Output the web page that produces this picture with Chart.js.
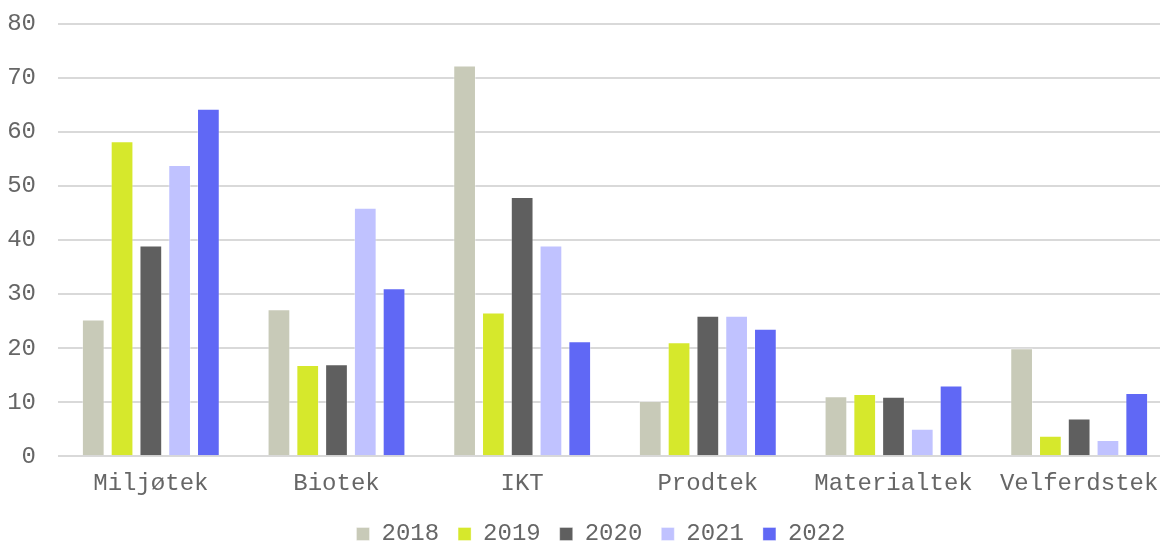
<!DOCTYPE html>
<html>
<head>
<meta charset="utf-8">
<script src="https://cdn.jsdelivr.net/npm/chart.js@4/dist/chart.umd.min.js"></script>
<style>
  html, body { margin: 0; padding: 0; background: #fff; overflow: hidden; }
  #wrap { width: 1160px; height: 542px; overflow: hidden; }
</style>
</head>
<body>
<div id="wrap"><canvas id="chart" width="1172" height="542"></canvas></div>
<script>
// categories and one array per year
const categories = ['Miljøtek', 'Biotek', 'IKT', 'Prodtek', 'Materialtek', 'Velferdstek'];
const years = ['2018', '2019', '2020', '2021', '2022'];

const v2018 = [25.3, 27.2, 72.3, 10.2, 11.1, 20.0];
const v2019 = [58.3, 16.9, 26.6, 21.1, 11.5, 3.8];
const v2020 = [39.0, 17.0, 48.0, 26.0, 11.0, 7.0];
const v2021 = [53.9, 46.0, 39.0, 26.0, 5.1, 3.0];
const v2022 = [64.3, 31.1, 21.3, 23.6, 13.1, 11.7];

const yTicks = [0, 10, 20, 30, 40, 50, 60, 70, 80];

const colors = ['#c8cab8', '#d6e82c', '#5f5f5f', '#c0c2ff', '#6068f5'];
const series = [v2018, v2019, v2020, v2021, v2022];

const fontFamily = '"Liberation Mono", "Courier New", monospace';
const textColor = '#666666';

let ctx = document.getElementById('chart').getContext('2d');

let datasets = [];
for (let i = 0; i < years.length; i++) {
  datasets.push({
    label: years[i],
    data: series[i],
    backgroundColor: colors[i],
    borderColor: 'rgba(255,255,255,0.35)',
    borderWidth: 1,
    categoryPercentage: 0.775,
    barPercentage: 0.79
  });
}

// the original legend sits a little right of the canvas centre
const shiftLegend = {
  id: 'shiftLegend',
  afterLayout(chart) {
    if (chart.legend) {
      chart.legend.left += 12;
      chart.legend.right += 12;
    }
  }
};

new Chart(ctx, {
  type: 'bar',
  data: { labels: categories, datasets: datasets },
  plugins: [shiftLegend],
  options: {
    responsive: false,
    animation: false,
    layout: { padding: { top: 24, left: 6, right: 0, bottom: -14 } },
    plugins: {
      tooltip: { enabled: false },
      legend: {
        position: 'bottom',
        labels: {
          boxWidth: 13,
          boxHeight: 13,
          padding: 19,
          color: textColor,
          font: { family: fontFamily, size: 24 }
        }
      }
    },
    scales: {
      x: {
        grid: { display: false },
        border: { display: false },
        ticks: {
          color: textColor,
          padding: 5,
          maxRotation: 0,
          autoSkip: false,
          font: { family: fontFamily, size: 24 }
        }
      },
      y: {
        min: 0,
        max: 80,
        afterBuildTicks: function (axis) {
          axis.ticks = yTicks.map(v => ({ value: v }));
        },
        afterFit: function (axis) {
          axis.width = 52;
          axis.paddingTop = 0;
          axis.paddingBottom = 0;
        },
        grid: { color: '#d9d9d9', lineWidth: 2, drawTicks: false },
        border: { display: false },
        ticks: {
          color: textColor,
          padding: 22,
          font: { family: fontFamily, size: 24 }
        }
      }
    }
  }
});
</script>
</body>
</html>
